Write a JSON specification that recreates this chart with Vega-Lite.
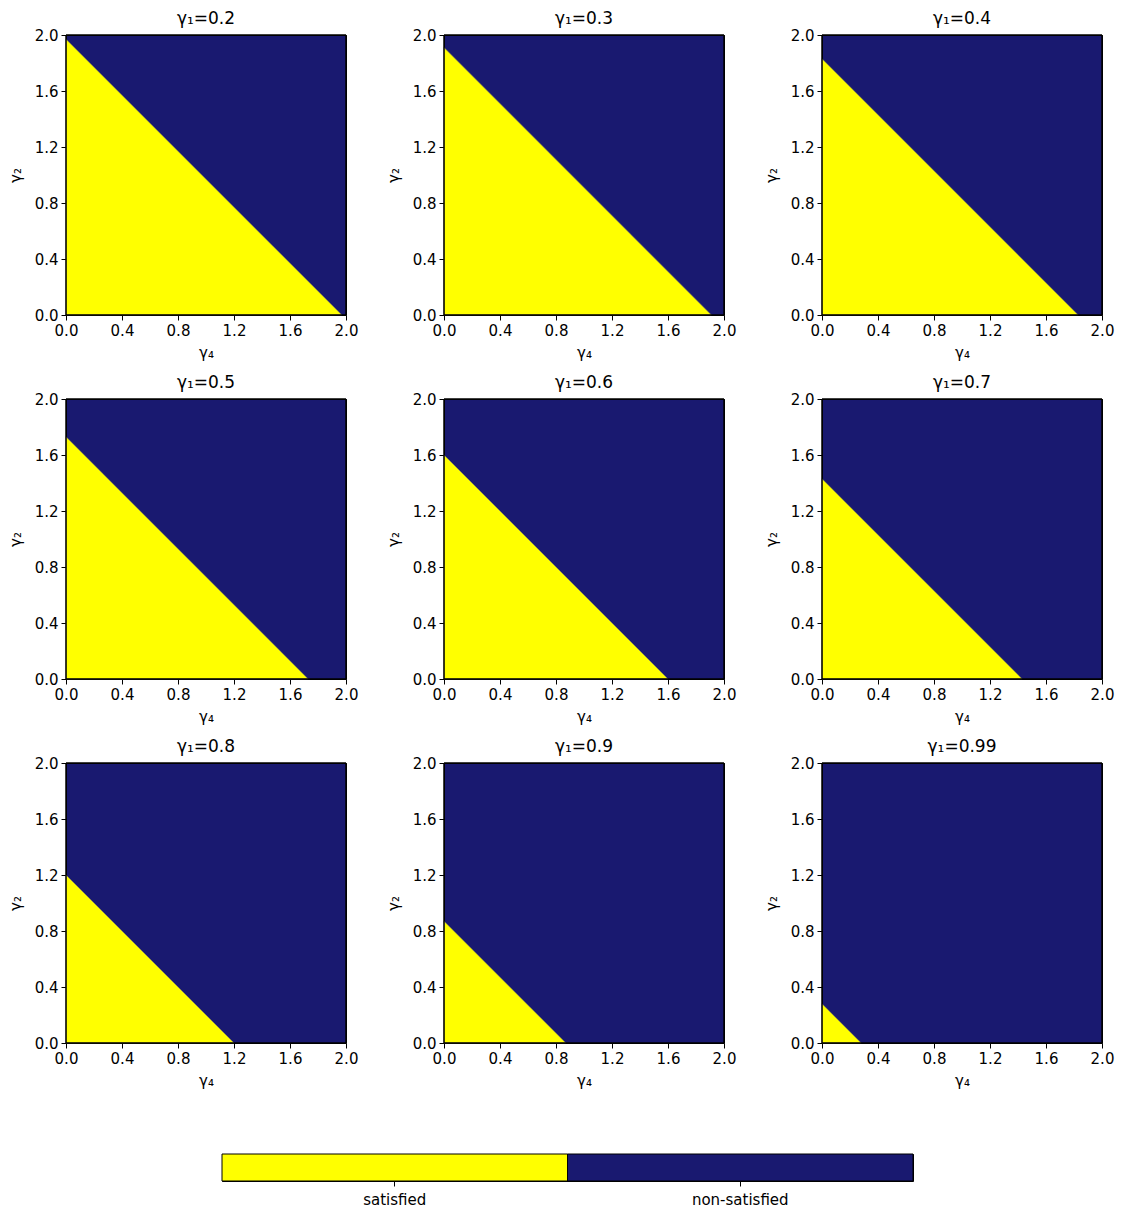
{
  "$schema": "https://vega.github.io/schema/vega-lite/v6.json",
  "background": "white",
  "padding": {"left": 7, "top": 9, "right": 5, "bottom": 5},
  "center": false,
  "spacing": 64,
  "config": {
    "view": {"fill": "#191970", "stroke": "#000000", "strokeWidth": 1},
    "font": "DejaVu Sans",
    "axis": {
      "labelFont": "DejaVu Sans", "labelFontSize": 15, "labelColor": "#000000", "labelFlush": false, "labelOverlap": false,
      "titleFont": "DejaVu Sans", "titleFontSize": 15, "titleFontWeight": "normal", "titleColor": "#000000",
      "tickColor": "#000000", "tickSize": 5, "tickWidth": 1, "domain": false, "grid": false, "labelPadding": 3
    }
  },
  "vconcat": [
    {
      "data": {"values": [
        {"panel": "γ₁=0.2", "g4": 0, "g2": 1.97}, {"panel": "γ₁=0.2", "g4": 1.97, "g2": 0},
        {"panel": "γ₁=0.3", "g4": 0, "g2": 1.91}, {"panel": "γ₁=0.3", "g4": 1.91, "g2": 0},
        {"panel": "γ₁=0.4", "g4": 0, "g2": 1.83}, {"panel": "γ₁=0.4", "g4": 1.83, "g2": 0},
        {"panel": "γ₁=0.5", "g4": 0, "g2": 1.73}, {"panel": "γ₁=0.5", "g4": 1.73, "g2": 0},
        {"panel": "γ₁=0.6", "g4": 0, "g2": 1.60}, {"panel": "γ₁=0.6", "g4": 1.60, "g2": 0},
        {"panel": "γ₁=0.7", "g4": 0, "g2": 1.43}, {"panel": "γ₁=0.7", "g4": 1.43, "g2": 0},
        {"panel": "γ₁=0.8", "g4": 0, "g2": 1.20}, {"panel": "γ₁=0.8", "g4": 1.20, "g2": 0},
        {"panel": "γ₁=0.9", "g4": 0, "g2": 0.87}, {"panel": "γ₁=0.9", "g4": 0.87, "g2": 0},
        {"panel": "γ₁=0.99", "g4": 0, "g2": 0.28}, {"panel": "γ₁=0.99", "g4": 0.28, "g2": 0}
      ]},
      "columns": 3,
      "spacing": {"column": 26, "row": 12},
      "facet": {
        "field": "panel", "type": "nominal", "sort": "ascending",
        "header": {"title": null, "labelFont": "DejaVu Sans", "labelFontSize": 17, "labelColor": "#000000", "labelPadding": 0}
      },
      "spec": {
        "width": 280, "height": 280,
        "encoding": {
          "x": {"type": "quantitative", "title": "γ₄",
                "scale": {"domain": [0, 2], "nice": false, "zero": true},
                "axis": {"values": [0, 0.4, 0.8, 1.2, 1.6, 2.0], "format": ".1f", "titlePadding": 7}},
          "y": {"type": "quantitative", "title": "γ₂",
                "scale": {"domain": [0, 2], "nice": false, "zero": true},
                "axis": {"values": [0, 0.4, 0.8, 1.2, 1.6, 2.0], "format": ".1f", "titlePadding": 11}}
        },
        "layer": [
          {
            "mark": {"type": "area", "color": "#ffff00", "interpolate": "linear", "stroke": "#8c8c55", "strokeWidth": 0.6},
            "encoding": {
              "x": {"field": "g4", "type": "quantitative"},
              "y": {"field": "g2", "type": "quantitative", "stack": null}
            }
          },
          {
            "mark": {"type": "rect", "fillOpacity": 0, "stroke": "#000000", "strokeWidth": 1},
            "encoding": {
              "x": {"datum": 0, "type": "quantitative"},
              "x2": {"datum": 2},
              "y": {"datum": 0, "type": "quantitative"},
              "y2": {"datum": 2}
            }
          }
        ]
      },
      "resolve": {"axis": {"x": "independent", "y": "independent"}, "scale": {"x": "independent", "y": "independent"}}
    },
    {
      "spacing": 0,
      "hconcat": [
        {
          "data": {"values": []},
          "width": 154, "height": 27,
          "view": {"fill": "transparent", "stroke": "transparent"},
          "mark": {"type": "point"},
          "encoding": {}
        },
        {
          "data": {"values": [{"s": "satisfied"}, {"s": "non-satisfied"}]},
          "width": 691, "height": 27,
          "mark": {"type": "rect", "stroke": "#000000", "strokeWidth": 1},
          "encoding": {
            "x": {"field": "s", "type": "nominal", "sort": ["satisfied", "non-satisfied"],
                  "scale": {"paddingInner": 0, "paddingOuter": 0},
                  "axis": {"title": null, "labelAngle": 0, "tickSize": 5, "labelPadding": 6}},
            "color": {"field": "s", "type": "nominal",
                      "scale": {"domain": ["satisfied", "non-satisfied"], "range": ["#ffff00", "#191970"]},
                      "legend": null}
          }
        }
      ]
    }
  ]
}
